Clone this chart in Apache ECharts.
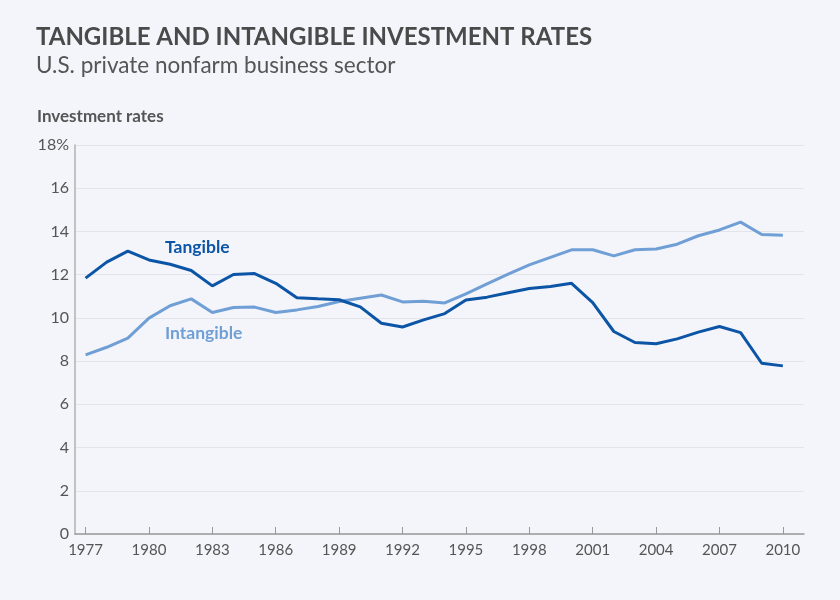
<!DOCTYPE html>
<html><head><meta charset="utf-8">
<script src="https://cdn.jsdelivr.net/npm/echarts@6/dist/echarts.min.js"></script>
<style>html,body{margin:0;padding:0;background:#f3f5fa;}#c{width:840px;height:600px;}</style>
</head><body><div id="c"></div>
<script>
const years = [1977,1978,1979,1980,1981,1982,1983,1984,1985,1986,1987,1988,1989,1990,1991,1992,1993,1994,1995,1996,1997,1998,1999,2000,2001,2002,2003,2004,2005,2006,2007,2008,2009,2010];
const tangible = [11.84,12.58,13.09,12.68,12.48,12.19,11.48,12.01,12.05,11.6,10.93,10.88,10.84,10.51,9.75,9.58,9.91,10.2,10.83,10.96,11.16,11.36,11.45,11.6,10.71,9.37,8.86,8.8,9.03,9.34,9.6,9.32,7.9,7.78];
const intangible = [8.29,8.64,9.06,9.99,10.56,10.88,10.25,10.48,10.5,10.25,10.37,10.53,10.76,10.91,11.06,10.74,10.77,10.69,11.11,11.57,12.02,12.45,12.8,13.15,13.15,12.87,13.15,13.19,13.41,13.8,14.07,14.43,13.86,13.82];
const xTicks = [1977,1980,1983,1986,1989,1992,1995,1998,2001,2004,2007,2010];
const yTicks = [0,2,4,6,8,10,12,14,16,18];
const title = 'TANGIBLE AND INTANGIBLE INVESTMENT RATES';
const subtitle = 'U.S. private nonfarm business sector';
const yName = 'Investment rates';

const chart = echarts.init(document.getElementById('c'), null, {renderer:'canvas'});
const font = 'Lato, "Open Sans", sans-serif';
chart.setOption({
  backgroundColor:'#f3f5fa',
  animation:false,
  title:[
    {text:title, left:36, top:25, padding:0, textStyle:{fontFamily:font, fontSize:24, fontWeight:'bold', color:'#4a4a4a'}},
    {text:subtitle, left:36, top:54, padding:0, textStyle:{fontFamily:font, fontSize:22.5, fontWeight:'normal', color:'#555555'}},
    {text:yName, left:37, top:108, padding:0, textStyle:{fontFamily:font, fontSize:17, fontWeight:'bold', color:'#555555'}}
  ],
  grid:{left:75, right:36, top:145, bottom:66, containLabel:false},
  xAxis:{type:'value', min:1976.5, max:2011,
    axisLine:{show:true, lineStyle:{color:'#999', width:1.5}},
    axisTick:{show:true, inside:true, length:7, customValues:xTicks, lineStyle:{color:'#999'}},
    axisLabel:{customValues:xTicks, formatter:v=>String(v), fontFamily:font, fontSize:15, color:'#555', margin:9},
    splitLine:{show:false}},
  yAxis:{type:'value', min:0, max:18, interval:2,
    axisLine:{show:true, lineStyle:{color:'#b0b0b0', width:1.5}},
    axisTick:{show:false},
    axisLabel:{formatter:v=>v===18?'18%':String(v), fontFamily:font, fontSize:16, color:'#555', margin:6},
    splitLine:{lineStyle:{color:'#e2e4ea', width:1.2}}},
  series:[
    {name:'Intangible', type:'line', data:years.map((y,i)=>[y,intangible[i]]), symbol:'none',
      lineStyle:{color:'#709fd6', width:3}, z:2},
    {name:'Tangible', type:'line', data:years.map((y,i)=>[y,tangible[i]]), symbol:'none',
      lineStyle:{color:'#0c55a6', width:3}, z:3}
  ],
  graphic:[
    {type:'text', left:165, top:238, style:{text:'Tangible', font:'bold 17.5px '+font, fill:'#0c55a6'}},
    {type:'text', left:165, top:324, style:{text:'Intangible', font:'bold 17.5px '+font, fill:'#709fd6'}}
  ]
});
</script></body></html>
